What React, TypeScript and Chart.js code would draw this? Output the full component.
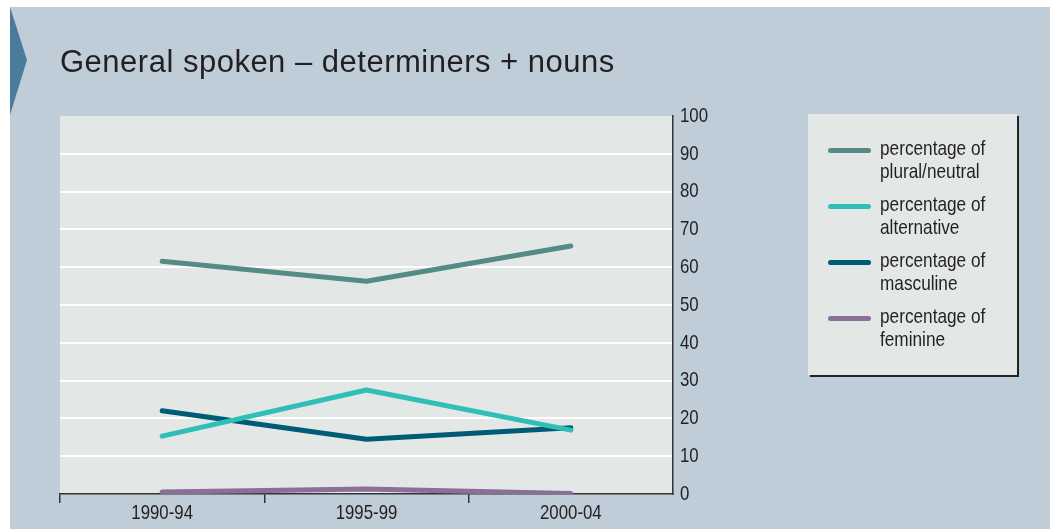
import React, { useEffect, useRef } from "react";
import { Chart, registerables } from "chart.js";

Chart.register(...registerables);

const categories = ["1990-94", "1995-99", "2000-04"];
const pluralNeutral = [61.6, 56.3, 65.6];
const alternative = [15.3, 27.5, 16.9];
const masculine = [22.0, 14.5, 17.5];
const feminine = [0.5, 1.3, 0.1];
const yTicks = [0, 10, 20, 30, 40, 50, 60, 70, 80, 90, 100];

const seriesNames = [
  ["percentage of", "plural/neutral"],
  ["percentage of", "alternative"],
  ["percentage of", "masculine"],
  ["percentage of", "feminine"],
];
const seriesColors = ["#558a85", "#2fbfb6", "#005b77", "#8a6f98"];
const titleText = "General spoken \u2013 determiners + nouns";

const SANS = "'Liberation Sans', Arial, sans-serif";
const TICK_FONT = "21px " + SANS;
const SQUEEZE = 0.8;

const bgPlugin = {
  id: "bgPlugin",
  beforeDraw(chart: any) {
    const { ctx, chartArea } = chart;
    const w = chart.width;
    const h = chart.height;
    ctx.save();
    ctx.fillStyle = "#ffffff";
    ctx.fillRect(0, 0, w, h);
    ctx.fillStyle = "#bfcdd9";
    ctx.fillRect(10, 7, w - 10, h - 7);
    ctx.fillStyle = "#4a7b9d";
    ctx.beginPath();
    ctx.moveTo(10, 7);
    ctx.lineTo(27, 60);
    ctx.lineTo(10, 115);
    ctx.closePath();
    ctx.fill();
    ctx.fillStyle = "#e3e8e7";
    ctx.fillRect(chartArea.left, chartArea.top, chartArea.right - chartArea.left, chartArea.bottom - chartArea.top);
    ctx.fillStyle = "#231f20";
    ctx.font = "31px " + SANS;
    try {
      (ctx as any).letterSpacing = "0.5px";
    } catch (e) {}
    ctx.textBaseline = "alphabetic";
    ctx.textAlign = "left";
    ctx.fillText(titleText, 60, 72);
    ctx.restore();
  },
  afterDraw(chart: any) {
    const { ctx } = chart;
    const xs = chart.scales.x;
    const ys = chart.scales.y;
    ctx.save();
    ctx.fillStyle = "#231f20";
    ctx.font = TICK_FONT;
    ctx.textBaseline = "middle";
    ctx.textAlign = "left";
    yTicks.forEach((v) => {
      const py = ys.getPixelForValue(v);
      ctx.save();
      ctx.translate(680, py);
      ctx.scale(SQUEEZE, 1);
      ctx.fillText(String(v), 0, 0);
      ctx.restore();
    });
    ctx.textAlign = "center";
    categories.forEach((c, i) => {
      const px = xs.getPixelForValue(i);
      ctx.save();
      ctx.translate(px, 513);
      ctx.scale(SQUEEZE, 1);
      ctx.fillText(c, 0, 0);
      ctx.restore();
    });
    ctx.restore();
  },
};

export default function App() {
  const ref = useRef<HTMLCanvasElement | null>(null);

  useEffect(() => {
    document.body.style.margin = "0";
    const canvas = ref.current;
    if (!canvas) return;
    const data = [pluralNeutral, alternative, masculine, feminine];
    const chart = new Chart(canvas, {
      type: "line",
      data: {
        labels: categories,
        datasets: data.map((d, i) => ({
          label: seriesNames[i].join(" "),
          data: d,
          borderColor: seriesColors[i],
          backgroundColor: seriesColors[i],
          borderWidth: 5,
          borderCapStyle: "round" as const,
          borderJoinStyle: "round" as const,
          pointRadius: 0,
          pointHoverRadius: 0,
          tension: 0,
          fill: false,
        })),
      },
      options: {
        responsive: false,
        animation: false,
        events: [],
        layout: { padding: { left: 60, top: 116, right: 0, bottom: 0 } },
        plugins: {
          legend: { display: false },
          title: { display: false },
          tooltip: { enabled: false },
        },
        scales: {
          x: {
            type: "category",
            offset: true,
            afterFit(scale: any) {
              scale.height = 35;
            },
            border: { display: true, color: "#333333", width: 1.5 },
            grid: {
              display: true,
              offset: true,
              drawOnChartArea: false,
              drawTicks: true,
              tickLength: 9,
              lineWidth: 1.5,
              color: (ctx: any) => (ctx.type === "tick" ? "#333333" : "rgba(0,0,0,0)"),
            },
            ticks: {
              color: "rgba(0,0,0,0)",
              font: { family: SANS, size: 18 },
              padding: 2,
              maxRotation: 0,
            },
          },
          y: {
            position: "right",
            min: 0,
            max: 100,
            afterFit(scale: any) {
              scale.width = 1050 - 673;
            },
            afterBuildTicks(scale: any) {
              scale.ticks = yTicks.map((v) => ({ value: v }));
            },
            border: { display: true, color: "#333333", width: 1.5 },
            grid: {
              display: true,
              drawTicks: false,
              lineWidth: 2,
              color: (ctx: any) =>
                ctx.tick && (ctx.tick.value === 0 || ctx.tick.value === 100) ? "rgba(0,0,0,0)" : "#ffffff",
            },
            ticks: {
              color: "rgba(0,0,0,0)",
              font: { family: SANS, size: 18 },
              padding: 6,
            },
          },
        },
      },
      plugins: [bgPlugin],
    });
    return () => chart.destroy();
  }, []);

  return (
    <div style={{ position: "relative", width: 1050, height: 529 }}>
      <canvas ref={ref} width={1050} height={529} style={{ display: "block", width: 1050, height: 529 }} />
      <div
        style={{
          position: "absolute",
          left: 808,
          top: 114,
          width: 209,
          height: 261,
          background: "#e3e8e7",
          boxShadow: "2px 2px 0 #222222",
          fontFamily: SANS,
          fontSize: 21,
          color: "#231f20",
        }}
      >
        {seriesNames.map((name, i) => (
          <div
            key={i}
            style={{
              position: "absolute",
              left: 0,
              top: 22 + i * 56,
              width: 209,
              height: 48,
            }}
          >
            <div
              style={{
                position: "absolute",
                left: 20,
                top: 12,
                width: 43,
                height: 5,
                borderRadius: 3,
                background: seriesColors[i],
              }}
            />
            <div
              style={{
                position: "absolute",
                left: 72,
                top: 0,
                lineHeight: "23px",
                whiteSpace: "nowrap",
                transform: "scaleX(0.82)",
                transformOrigin: "left top",
              }}
            >
              {name[0]}
              <br />
              {name[1]}
            </div>
          </div>
        ))}
      </div>
    </div>
  );
}
